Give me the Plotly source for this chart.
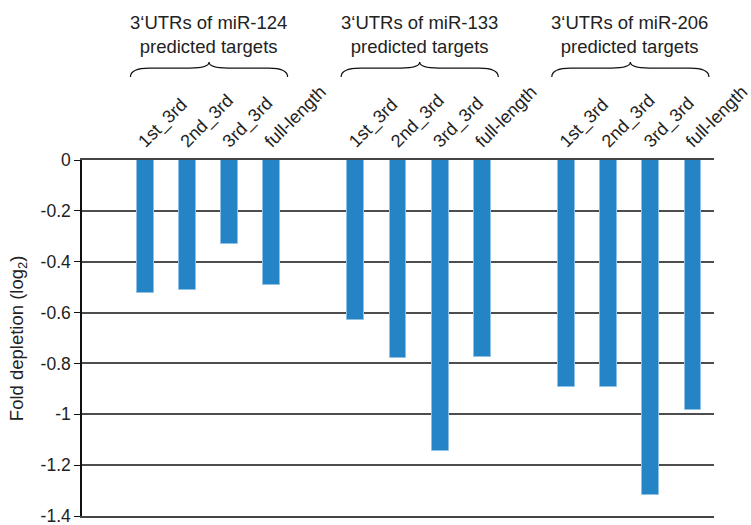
import plotly.graph_objects as go

# data
segments = ["1st_3rd", "2nd_3rd", "3rd_3rd", "full-length"]
groups = ["miR-124", "miR-133", "miR-206"]
mir124 = [-0.524, -0.513, -0.332, -0.491]
mir133 = [-0.630, -0.778, -1.146, -0.776]
mir206 = [-0.894, -0.892, -1.316, -0.982]
y_ticks = [0, -0.2, -0.4, -0.6, -0.8, -1, -1.2, -1.4]
y_ticktext = ["0", "-0.2", "-0.4", "-0.6", "-0.8", "-1", "-1.2", "-1.4"]

FONT = "Liberation Sans, Arial, Helvetica, sans-serif"
BAR = "#2484c6"
TXT = "#222222"

series = [mir124, mir133, mir206]
xs, ys, labels = [], [], []
for g, vals in enumerate(series):
    for i, v in enumerate(vals):
        xs.append(g * 5 + i)   # one empty slot between groups
        ys.append(v)
        labels.append(segments[i])

fig = go.Figure()
fig.add_trace(go.Bar(
    x=xs, y=ys, width=0.4,
    marker=dict(color=BAR, line=dict(color="#8fc0e6", width=1)),
    showlegend=False,
))


def brace_path(xl, xr, ye=1.233, yf=1.258, yp=1.275, r=0.45):
    xc = (xl + xr) / 2
    return (f"M {xl},{ye} Q {xl},{yf} {xl + r},{yf} "
            f"L {xc - r},{yf} Q {xc},{yf} {xc},{yp} "
            f"Q {xc},{yf} {xc + r},{yf} "
            f"L {xr - r},{yf} Q {xr},{yf} {xr},{ye}")


for g, name in enumerate(groups):
    x0 = g * 5
    fig.add_shape(type="path", path=brace_path(x0 - 0.35, x0 + 3.38),
                  xref="x", yref="paper",
                  line=dict(color="#111111", width=1.2))
    fig.add_annotation(x=x0 + 1.5, y=1.352, xref="x", yref="paper",
                       text=f"3‘UTRs of {name}<br>predicted targets",
                       showarrow=False, yanchor="middle",
                       font=dict(family=FONT, size=18.5, color=TXT))

# y axis title placed by hand
fig.add_annotation(x=-0.101, y=0.5, xref="paper", yref="paper",
                   text="Fold depletion (log<sub>2</sub>)", textangle=-90,
                   showarrow=False, xanchor="center", yanchor="middle",
                   font=dict(family=FONT, size=18.5, color=TXT))

fig.update_layout(
    width=751, height=525,
    margin=dict(l=82, r=37, t=160, b=9),
    paper_bgcolor="white", plot_bgcolor="white",
    font=dict(family=FONT, size=18, color=TXT),
    bargap=0,
)
fig.update_xaxes(
    side="top", range=[-1.5, 13.5], automargin=False,
    tickvals=xs, ticktext=labels, tickangle=-45,
    ticklabeloverflow="allow", ticklabelshift=-6,
    ticks="", showgrid=False, zeroline=False,
    showline=True, mirror=True, linecolor="#444444", linewidth=1.5,
    tickfont=dict(family=FONT, size=18, color=TXT),
)
fig.update_yaxes(
    range=[-1.4, 0], automargin=False,
    tickvals=y_ticks, ticktext=y_ticktext, ticklabeloverflow="allow",
    showgrid=True, gridcolor="#4d4d4d", gridwidth=1.5,
    zeroline=False, showline=True, linecolor="#111111", linewidth=1.5,
    ticks="outside", ticklen=6, tickcolor="#111111",
    tickfont=dict(family=FONT, size=17.5, color=TXT),
)

# the page's default body margin would shift the figure by 8px
fig.write_html("out.html", config={"displayModeBar": False},
               post_script="document.body.style.margin='0';")
